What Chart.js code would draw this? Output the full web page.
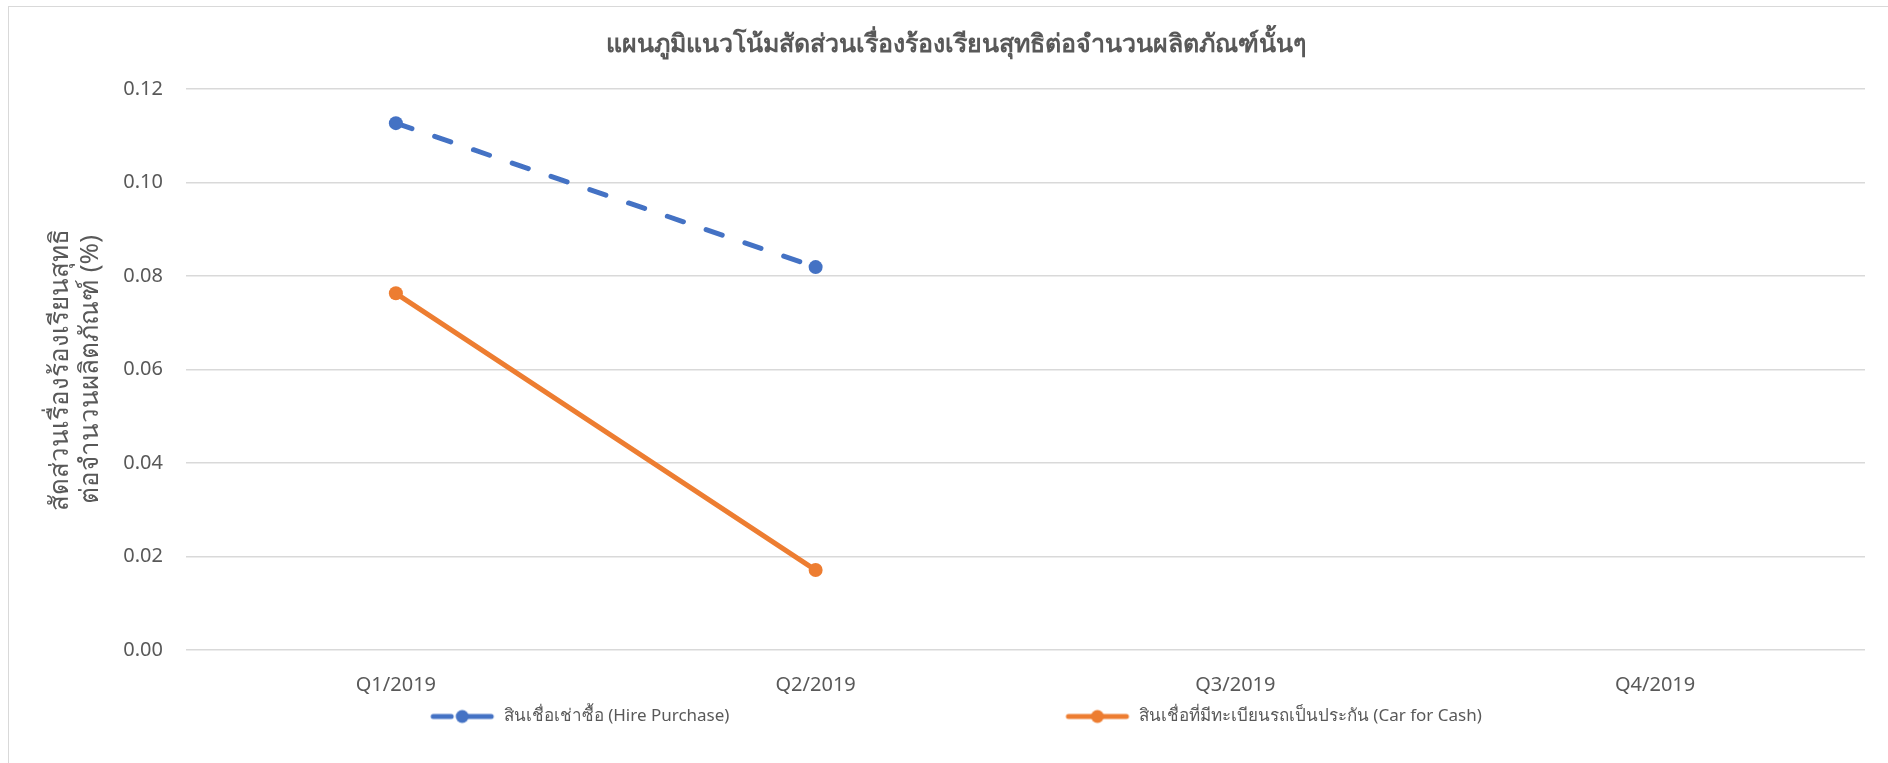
<!DOCTYPE html>
<html>
<head>
<meta charset="utf-8">
<script src="https://cdn.jsdelivr.net/npm/chart.js@4.4.1/dist/chart.umd.min.js"></script>
<style>
    html, body { margin: 0; padding: 0; background: #fff; overflow: hidden; }
    #frame { position: absolute; left: 8px; top: 6px; width: 2000px; height: 1000px; border: 1.5px solid #d9d9d9; }
    #chart { position: absolute; left: 0; top: 0; }
</style>
</head>
<body>
<div id="frame"></div>
<canvas id="chart" width="1888" height="763"></canvas>
<script>
const categories = ['Q1/2019', 'Q2/2019', 'Q3/2019', 'Q4/2019'];
const hirePurchase = [0.1127, 0.0819, null, null];
const carForCash = [0.0763, 0.0171, null, null];
const seriesNames = ['สินเชื่อเช่าซื้อ (Hire Purchase)', 'สินเชื่อที่มีทะเบียนรถเป็นประกัน (Car for Cash)'];
const chartTitle = 'แผนภูมิแนวโน้มสัดส่วนเรื่องร้องเรียนสุทธิต่อจำนวนผลิตภัณฑ์นั้นๆ';
const yTitle = ['สัดส่วนเรื่องร้องเรียนสุทธิ', 'ต่อจำนวนผลิตภัณฑ์ (%)'];

const BLUE = '#4472C4';
const ORANGE = '#ED7D31';
const GREY = '#595959';
const FONT = "'Noto Sans', 'DejaVu Sans', sans-serif";

// legend marker: short line with a dot in the middle, like Excel
function legendMarker(color, dashed) {
    const c = document.createElement('canvas');
    c.width = 66;
    c.height = 16;
    const ctx = c.getContext('2d');
    ctx.strokeStyle = color;
    ctx.fillStyle = color;
    ctx.lineWidth = 5;
    ctx.lineCap = 'round';
    ctx.beginPath();
    if (dashed) {
        ctx.moveTo(4, 8);
        ctx.lineTo(22, 8);
        ctx.moveTo(34, 8);
        ctx.lineTo(62, 8);
    } else {
        ctx.moveTo(4, 8);
        ctx.lineTo(62, 8);
    }
    ctx.stroke();
    ctx.beginPath();
    ctx.arc(33, 8, 6.5, 0, Math.PI * 2);
    ctx.fill();
    return c;
}

const markers = [legendMarker(BLUE, true), legendMarker(ORANGE, false)];
const gapText = '\u2003'.repeat(19);

new Chart(document.getElementById('chart'), {
    type: 'line',
    data: {
        labels: categories,
        datasets: [{
            label: seriesNames[0],
            data: hirePurchase,
            borderColor: BLUE,
            backgroundColor: BLUE,
            borderWidth: 5,
            borderDash: [17, 24],
            borderCapStyle: 'round',
            pointRadius: 7,
            pointHoverRadius: 7,
            pointBorderWidth: 0
        }, {
            label: seriesNames[1],
            data: carForCash,
            borderColor: ORANGE,
            backgroundColor: ORANGE,
            borderWidth: 5,
            borderCapStyle: 'round',
            pointRadius: 7,
            pointHoverRadius: 7,
            pointBorderWidth: 0
        }]
    },
    options: {
        responsive: false,
        animation: false,
        layout: { padding: { left: 46, right: 23, top: 0, bottom: 28 } },
        plugins: {
            title: {
                display: true,
                text: chartTitle,
                color: GREY,
                font: { family: FONT, size: 25, weight: 'bold' },
                padding: { top: 30, bottom: 29 }
            },
            legend: {
                position: 'bottom',
                labels: {
                    color: GREY,
                    font: { family: FONT, size: 17 },
                    usePointStyle: true,
                    pointStyleWidth: 66,
                    padding: 12,
                    generateLabels(chart) {
                        return chart.data.datasets.map((ds, i) => ({
                            text: i === 0 ? ds.label + gapText : ds.label,
                            fillStyle: ds.borderColor,
                            strokeStyle: ds.borderColor,
                            lineWidth: 0,
                            pointStyle: markers[i],
                            fontColor: GREY,
                            datasetIndex: i
                        }));
                    }
                }
            },
            tooltip: { enabled: false }
        },
        scales: {
            x: {
                offset: true,
                afterFit(scale) { scale.height = 46; },
                grid: { display: false, drawTicks: false },
                border: { display: false },
                ticks: { color: GREY, font: { family: FONT, size: 20 }, padding: 23 }
            },
            y: {
                min: 0,
                max: 0.12,
                afterFit(scale) { scale.width = 140; },
                grid: { color: '#d9d9d9', lineWidth: 1.4, drawTicks: false },
                border: { display: false },
                ticks: {
                    stepSize: 0.02,
                    color: GREY,
                    font: { family: FONT, size: 20 },
                    padding: 23,
                    callback: v => v.toFixed(2)
                },
                title: {
                    display: true,
                    text: yTitle,
                    color: GREY,
                    font: { family: FONT, size: 26, lineHeight: 1.15 },
                    padding: { top: 0, bottom: 0 }
                }
            }
        }
    }
});
</script>
</body>
</html>
